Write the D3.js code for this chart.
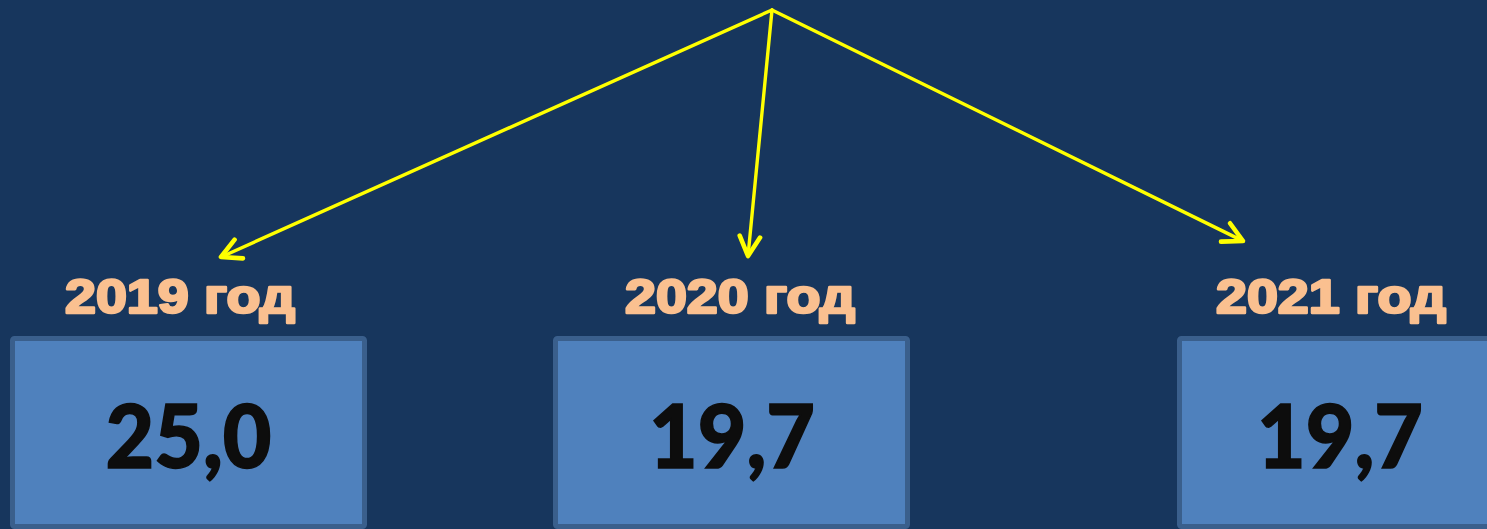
<!DOCTYPE html>
<html>
<head>
<meta charset="utf-8">
<script src="https://cdn.jsdelivr.net/npm/d3@7"></script>
<style>
  html, body { margin: 0; padding: 0; background: #17365d; overflow: hidden; }
</style>
</head>
<body>
<div id="chart"></div>
<script>
const width = 1487
const height = 529

// data
const years = ['2019', '2020', '2021']
const values = [25.0, 19.7, 19.7]
const suffix = 'год'

// layout (where each year's box, label, number and arrow tip sit)
const boxX = d3.scaleOrdinal().domain(years).range([10, 553, 1177])
const labelX = d3.scaleOrdinal().domain(years).range([180, 740, 1331])
const numX = d3.scaleOrdinal().domain(years).range([188.5, 732, 1340])
const tipX = d3.scaleOrdinal().domain(years).range([221, 748, 1243])
const tipY = d3.scaleOrdinal().domain(years).range([257, 256, 241])
const boxW = 357
const boxTop = 336
const origin = [772, 10]

const fmt = v => d3.format('.1f')(v).replace('.', ',')

const svg = d3.select('#chart').append('svg')
  .attr('width', width)
  .attr('height', height)
  .style('display', 'block')

svg.append('rect')
  .attr('width', width)
  .attr('height', height)
  .attr('fill', '#17365d')

// arrows
const arrows = svg.append('g')
  .attr('stroke', '#ffff00')
  .attr('stroke-linecap', 'round')
  .attr('stroke-linejoin', 'round')
  .attr('fill', 'none')

years.forEach(y => {
  const x1 = tipX(y), y1 = tipY(y)
  const ang = Math.atan2(y1 - origin[1], x1 - origin[0])
  const len = 22, spread = Math.PI / 6.5
  arrows.append('line')
    .attr('stroke-width', 3.4)
    .attr('x1', origin[0]).attr('y1', origin[1])
    .attr('x2', x1 - 2 * Math.cos(ang)).attr('y2', y1 - 2 * Math.sin(ang))
  arrows.append('path')
    .attr('stroke-width', 4.6)
    .attr('d', d3.line()([
      [x1 - len * Math.cos(ang - spread), y1 - len * Math.sin(ang - spread)],
      [x1, y1],
      [x1 - len * Math.cos(ang + spread), y1 - len * Math.sin(ang + spread)]
    ]))
})

// year labels
svg.append('g')
  .selectAll('text')
  .data(years)
  .join('text')
  .attr('x', d => labelX(d))
  .attr('y', 313)
  .attr('text-anchor', 'middle')
  .attr('textLength', 230)
  .attr('lengthAdjust', 'spacingAndGlyphs')
  .attr('fill', '#fac090')
  .attr('stroke', '#fac090')
  .attr('stroke-width', 2.6)
  .attr('stroke-linejoin', 'round')
  .attr('font-family', '"Liberation Sans", Arial, sans-serif')
  .attr('font-weight', 'bold')
  .attr('font-size', 48)
  .text(d => `${d} ${suffix}`)

// boxes
const boxes = svg.append('g')
  .selectAll('g')
  .data(years.map((y, i) => ({ year: y, value: values[i] })))
  .join('g')

boxes.append('rect')
  .attr('x', d => boxX(d.year) + 2.5)
  .attr('y', boxTop + 2.5)
  .attr('width', boxW - 5)
  .attr('height', height - boxTop - 5)
  .attr('rx', 2)
  .attr('fill', '#4f81bd')
  .attr('stroke', '#3a5f8c')
  .attr('stroke-width', 5)

boxes.append('text')
  .attr('x', d => numX(d.year))
  .attr('y', 468)
  .attr('text-anchor', 'middle')
  .attr('fill', '#0d0d0d')
  .attr('stroke', '#0d0d0d')
  .attr('stroke-width', 1.5)
  .attr('font-family', 'Lato, "Open Sans", sans-serif')
  .attr('font-weight', 900)
  .attr('font-size', 88)
  .attr('textLength', 166)
  .attr('lengthAdjust', 'spacingAndGlyphs')
  .text(d => fmt(d.value))
</script>
</body>
</html>
